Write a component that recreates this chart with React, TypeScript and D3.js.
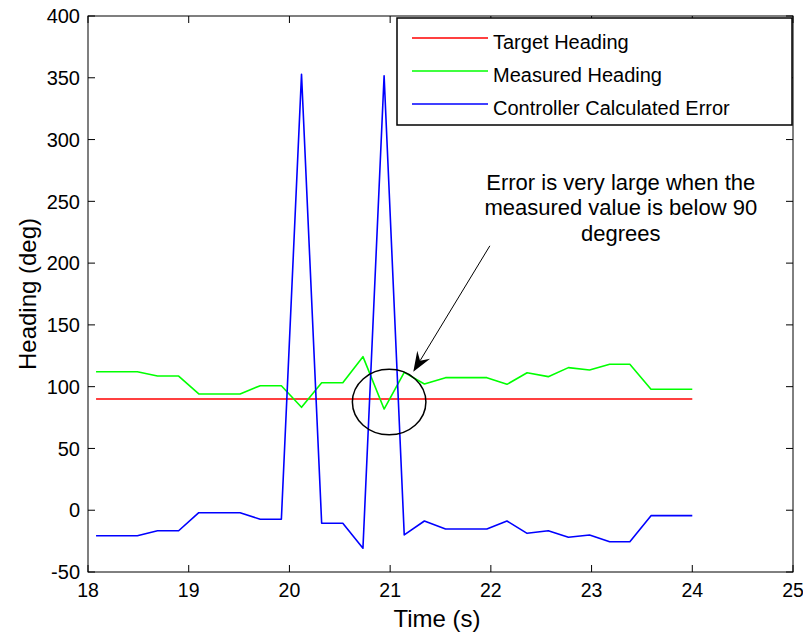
import React from "react";
import * as d3 from "d3";

// ---- data ----
const times = [
  18.08, 18.28, 18.49, 18.69, 18.9, 19.1, 19.3, 19.51, 19.71, 19.92,
  20.12, 20.32, 20.53, 20.73, 20.94, 21.14, 21.34, 21.55, 21.75, 21.96,
  22.16, 22.36, 22.57, 22.77, 22.98, 23.18, 23.38, 23.59, 23.79, 24.0,
];
const targetHeading = [
  90, 90, 90, 90, 90, 90, 90, 90, 90, 90, 90, 90, 90, 90, 90,
  90, 90, 90, 90, 90, 90, 90, 90, 90, 90, 90, 90, 90, 90, 90,
];
const measuredHeading = [
  112.1, 112.1, 112.1, 108.6, 108.6, 94.1, 94.1, 94.1, 100.8, 100.8,
  83.3, 103.2, 103.2, 124.3, 81.9, 111.6, 102.2, 107.3, 107.3, 107.3,
  101.9, 111.3, 108.1, 115.4, 113.5, 118.1, 118.1, 97.9, 97.9, 97.9,
];
const calculatedError = [
  -20.6, -20.6, -20.6, -16.6, -16.6, -2, -2, -2, -7.3, -7.3,
  352.8, -10.6, -10.6, -30.8, 351.7, -20, -8.7, -15.2, -15.2, -15.2,
  -8.7, -18.7, -16.6, -21.9, -20, -25.5, -25.5, -4.4, -4.4, -4.4,
];
const seriesNames = ["Target Heading", "Measured Heading", "Controller Calculated Error"];
const seriesColors = ["#ff0000", "#00ff00", "#0000ff"];
const xTicks = [18, 19, 20, 21, 22, 23, 24, 25];
const yTicks = [-50, 0, 50, 100, 150, 200, 250, 300, 350, 400];
const annotationLines = [
  "Error is very large when the",
  "measured value is below 90",
  "degrees",
];

const FONT = "'Liberation Sans', Arial, Helvetica, sans-serif";

export default function App() {
  const W = 803, H = 634;
  const L = 88, R = 793, T = 16, B = 572;
  const x = d3.scaleLinear().domain([18, 25]).range([L, R]);
  const y = d3.scaleLinear().domain([-50, 400]).range([B, T]);
  const mk = (vals: number[]) =>
    d3.line<number>().x((_, i) => x(times[i])).y((d) => y(d))(vals) || "";
  const series = [targetHeading, measuredHeading, calculatedError];

  // annotation geometry (data coords)
  const tip = [x(21.23), y(112)];
  const start = [x(21.99), y(214)];
  const dx = start[0] - tip[0], dy = start[1] - tip[1];
  const len = Math.hypot(dx, dy);
  const ux = dx / len, uy = dy / len;
  const px = -uy, py = ux;
  const hl = 20, hw = 7.5, notch = 13;
  const head = [
    [tip[0], tip[1]],
    [tip[0] + ux * hl + px * hw, tip[1] + uy * hl + py * hw],
    [tip[0] + ux * notch, tip[1] + uy * notch],
    [tip[0] + ux * hl - px * hw, tip[1] + uy * hl - py * hw],
  ];
  const cx = x(20.99), cy = y(87.5);
  const rx = x(20.99 + 0.365) - cx, ry = y(87.5 - 26.5) - cy;

  const legX = 397, legY = 18, legW = 395, legH = 107;
  const rowY = [38, 71, 104];

  return (
    <svg
      width={W}
      height={H}
      style={{ position: "absolute", left: 0, top: 0, background: "#fff" }}
      fontFamily={FONT}
    >
      <rect x={0} y={0} width={W} height={H} fill="#fff" />
      {/* data lines */}
      {series.map((s, i) => (
        <path key={i} d={mk(s)} fill="none" stroke={seriesColors[i]} strokeWidth={1.6} strokeLinejoin="round" />
      ))}
      {/* frame */}
      <rect x={L} y={T} width={R - L} height={B - T} fill="none" stroke="#000" strokeWidth={1} />
      {xTicks.map((t) => (
        <g key={"x" + t}>
          <line x1={x(t)} x2={x(t)} y1={B} y2={B - 7} stroke="#000" />
          <line x1={x(t)} x2={x(t)} y1={T} y2={T + 7} stroke="#000" />
          <text x={x(t)} y={597} fontSize={19.5} textAnchor="middle" fill="#000">
            {t}
          </text>
        </g>
      ))}
      {yTicks.map((v) => (
        <g key={"y" + v}>
          <line x1={L} x2={L + 7} y1={y(v)} y2={y(v)} stroke="#000" />
          <line x1={R} x2={R - 7} y1={y(v)} y2={y(v)} stroke="#000" />
          <text x={80} y={y(v)} dy="0.36em" fontSize={20} textAnchor="end" fill="#000">
            {v}
          </text>
        </g>
      ))}
      <text x={437} y={627} fontSize={24} textAnchor="middle" fill="#000">
        Time (s)
      </text>
      <text
        transform={`translate(36, ${(T + B) / 2}) rotate(-90)`}
        fontSize={24}
        textAnchor="middle"
        fill="#000"
      >
        Heading (deg)
      </text>

      {/* annotation */}
      <ellipse cx={cx} cy={cy} rx={rx} ry={ry} fill="none" stroke="#000" strokeWidth={1.5} />
      <line x1={start[0]} y1={start[1]} x2={tip[0] + ux * notch} y2={tip[1] + uy * notch} stroke="#000" strokeWidth={1} />
      <polygon points={head.map((p) => p.join(",")).join(" ")} fill="#000" />
      {annotationLines.map((s, i) => (
        <text key={i} x={x(23.29)} y={189.5 + i * 25.5} fontSize={22} textAnchor="middle" fill="#000">
          {s}
        </text>
      ))}

      {/* legend */}
      <rect x={legX} y={legY} width={legW} height={legH} fill="#fff" stroke="#000" strokeWidth={1.5} />
      {seriesNames.map((n, i) => (
        <g key={n}>
          <line x1={412} x2={488} y1={rowY[i]} y2={rowY[i]} stroke={seriesColors[i]} strokeWidth={1.5} />
          <text x={493} y={rowY[i] + 4} dy="0.35em" fontSize={20} fill="#000">
            {n}
          </text>
        </g>
      ))}
    </svg>
  );
}
